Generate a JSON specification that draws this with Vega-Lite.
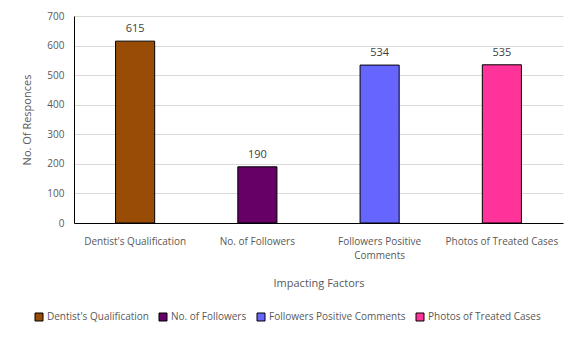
{
  "$schema": "https://vega.github.io/schema/vega-lite/v6.json",
  "width": 489,
  "height": 207,
  "autosize": "none",
  "padding": {"left": 74, "top": 16, "right": 18, "bottom": 118},
  "background": "white",
  "config": {
    "font": "Open Sans",
    "view": {"stroke": null},
    "axis": {"labelColor": "#595959", "titleColor": "#595959", "labelFontSize": 10, "titleFontSize": 11, "titleFontWeight": "normal"}
  },
  "data": {"values": [
    {"factor": "Dentist's Qualification", "value": 615},
    {"factor": "No. of Followers", "value": 190},
    {"factor": "Followers Positive Comments", "value": 534},
    {"factor": "Photos of Treated Cases", "value": 535}
  ]},
  "encoding": {
    "x": {"field": "factor", "type": "nominal", "sort": null,
      "scale": {"paddingInner": 0.68, "paddingOuter": 0.34},
      "axis": {"title": "Impacting Factors", "labelAngle": 0, "ticks": false, "domainColor": "black", "labelPadding": 13, "titlePadding": 17,
        "labelExpr": "datum.label == 'Followers Positive Comments' ? ['Followers Positive', 'Comments'] : datum.label", "labelLineHeight": 14}},
    "y": {"field": "value", "type": "quantitative",
      "scale": {"domain": [0, 700]},
      "axis": {"title": "No. Of Responces", "values": [0,100,200,300,400,500,600,700], "ticks": false, "domainColor": "black", "gridColor": "#d9d9d9", "labelPadding": 10, "titlePadding": 14}}
  },
  "layer": [
    {"mark": {"type": "bar", "stroke": "black", "strokeWidth": 1},
      "encoding": {"color": {"field": "factor", "type": "nominal", "sort": null,
        "scale": {"domain": ["Dentist's Qualification", "No. of Followers", "Followers Positive Comments", "Photos of Treated Cases"], "range": ["#994C06", "#660066", "#6666FF", "#FF3399"]},
        "legend": {"title": null, "orient": "none", "legendX": -40, "legendY": 296, "direction": "horizontal", "symbolType": "square", "symbolSize": 64, "symbolStrokeColor": "black", "symbolStrokeWidth": 1, "labelFontSize": 10, "labelColor": "#595959", "columnPadding": 8, "symbolOffset": 0, "labelOffset": 3}}}},
    {"mark": {"type": "text", "baseline": "bottom", "dy": -7, "fontSize": 11, "color": "#404040"},
      "encoding": {"text": {"field": "value", "type": "quantitative"}}}
  ]
}
